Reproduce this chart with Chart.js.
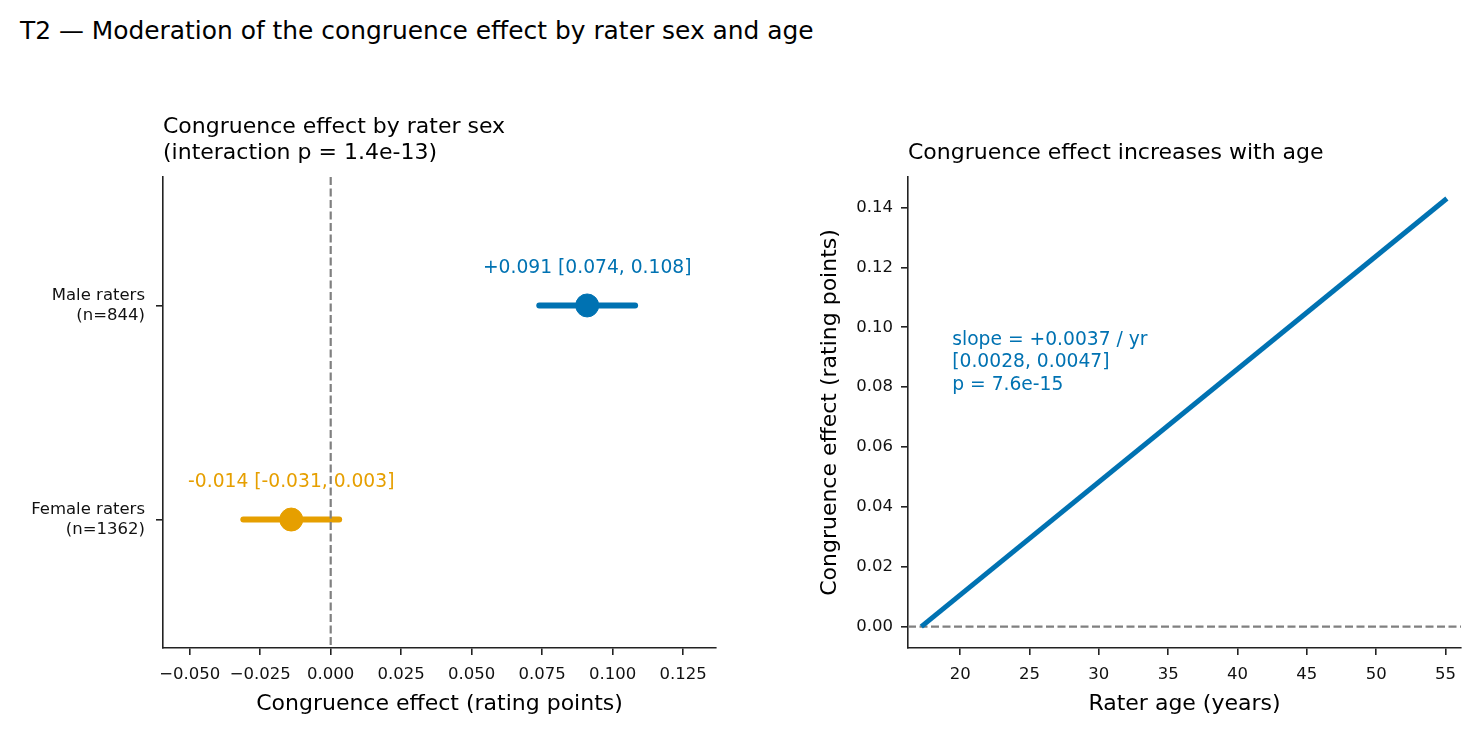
<!DOCTYPE html>
<html>
<head>
<meta charset="utf-8">
<script src="https://cdn.jsdelivr.net/npm/chart.js@4.4.1/dist/chart.umd.min.js"></script>
<style>
body { margin: 0; background: #fff; width: 1481px; height: 737px; overflow: hidden; position: relative; font-family: 'DejaVu Sans'; }
#sup { position: absolute; left: 20px; top: 16px; font-size: 24.9px; line-height: 30px; color: #000; white-space: nowrap; }
#left { position: absolute; left: 0; top: 0; }
#right { position: absolute; left: 760px; top: 0; }
</style>
</head>
<body>
<div id="sup">T2 — Moderation of the congruence effect by rater sex and age</div>
<canvas id="left" width="740" height="737"></canvas>
<canvas id="right" width="721" height="737"></canvas>
<script>
// left panel: effect by rater sex
const groups = ['Female raters', 'Male raters'];
const groupN = [1362, 844];
const estimates = [-0.014, 0.091];
const ciLow = [-0.031, 0.074];
const ciHigh = [0.003, 0.108];
const groupColors = ['#E69F00', '#0072B2'];
const sexTitle = ['Congruence effect by rater sex', '(interaction p = 1.4e-13)'];

// right panel: effect by age
const ages = [17.2, 55.1];
const ageEffect = [0.0, 0.143];
const slopeText = ['slope = +0.0037 / yr', '[0.0028, 0.0047]', 'p = 7.6e-15'];
const ageTitle = 'Congruence effect increases with age';
const blue = '#0072B2';

const axisColor = '#222';
const tickFont = { size: 16.5 };
const labelFont = { size: 22 };

Chart.defaults.font.family = "'DejaVu Sans', sans-serif";
Chart.defaults.color = '#111';

function fmtSigned(v, digits) {
    if (Math.abs(v) < 1e-9) return (0).toFixed(digits);
    return v < 0 ? '\u2212' + Math.abs(v).toFixed(digits) : v.toFixed(digits);
}

function axisBase() {
    return {
        grid: { drawOnChartArea: false, drawTicks: true, tickLength: 7, color: axisColor, lineWidth: 1.6 },
        border: { display: true, color: axisColor, width: 1.6 },
    };
}

function drawDashed(ctx, x1, y1, x2, y2) {
    ctx.save();
    ctx.strokeStyle = '#808080';
    ctx.lineWidth = 2.2;
    ctx.setLineDash([8, 3.5]);
    ctx.beginPath();
    ctx.moveTo(x1, y1);
    ctx.lineTo(x2, y2);
    ctx.stroke();
    ctx.restore();
}

const sexPlugin = {
    id: 'sexText',
    afterDatasetsDraw(chart) {
        const ctx = chart.ctx;
        const a = chart.chartArea;
        const xs = chart.scales.x;
        const ys = chart.scales.y;
        const zx = xs.getPixelForValue(0);
        drawDashed(ctx, zx, a.top, zx, a.bottom);
        ctx.save();
        ctx.textBaseline = 'middle';
        ctx.font = "22px 'DejaVu Sans'";
        ctx.fillStyle = '#000';
        ctx.textAlign = 'left';
        sexTitle.forEach((line, i) => ctx.fillText(line, a.left, a.top - 50 + i * 26));
        ctx.font = "18.7px 'DejaVu Sans'";
        ctx.textAlign = 'center';
        groups.forEach((g, i) => {
            const lbl = (estimates[i] >= 0 ? '+' : '') + estimates[i].toFixed(3) +
                ' [' + ciLow[i].toFixed(3) + ', ' + ciHigh[i].toFixed(3) + ']';
            ctx.fillStyle = groupColors[i];
            ctx.fillText(lbl, xs.getPixelForValue(estimates[i]), ys.getPixelForValue(i) - 37);
        });
        ctx.restore();
    }
};

const agePlugin = {
    id: 'ageText',
    beforeDatasetsDraw(chart) {
        const a = chart.chartArea;
        const zy = chart.scales.y.getPixelForValue(0);
        drawDashed(chart.ctx, a.left, zy, a.right, zy);
    },
    afterDatasetsDraw(chart) {
        const ctx = chart.ctx;
        const a = chart.chartArea;
        ctx.save();
        ctx.textBaseline = 'middle';
        ctx.textAlign = 'left';
        ctx.font = "22px 'DejaVu Sans'";
        ctx.fillStyle = '#000';
        ctx.fillText(ageTitle, a.left, a.top - 24);
        ctx.font = "18.7px 'DejaVu Sans'";
        ctx.fillStyle = blue;
        const x0 = a.left + 0.08 * (a.right - a.left);
        const y0 = a.top + 0.346 * (a.bottom - a.top);
        slopeText.forEach((line, i) => ctx.fillText(line, x0, y0 + i * 22.5));
        ctx.restore();
    }
};

new Chart(document.getElementById('left'), {
    type: 'scatter',
    data: {
        datasets: [
            ...groups.map((g, i) => ({
                label: g + ' CI',
                data: [{ x: ciLow[i], y: i }, { x: ciHigh[i], y: i }],
                showLine: true,
                borderColor: groupColors[i],
                borderWidth: 6,
                borderCapStyle: 'round',
                pointRadius: 0,
                order: 2
            })),
            ...groups.map((g, i) => ({
                label: g,
                data: [{ x: estimates[i], y: i }],
                backgroundColor: groupColors[i],
                borderColor: groupColors[i],
                pointRadius: 11.5,
                pointBorderWidth: 1,
                order: 1
            }))
        ]
    },
    options: {
        responsive: false,
        animation: false,
        layout: { padding: { top: 177, right: 24, left: 0, bottom: 0 } },
        plugins: { legend: { display: false }, tooltip: { enabled: false } },
        scales: {
            x: {
                type: 'linear', min: -0.0595, max: 0.1367,
                ...axisBase(),
                afterFit: s => { s.height = 89; },
                ticks: { stepSize: 0.025, includeBounds: false, padding: 10, font: tickFont, color: '#111',
                    callback: v => fmtSigned(v, 3) },
                title: { display: true, text: 'Congruence effect (rating points)', font: labelFont, color: '#000', padding: { top: 0, bottom: 20 } }
            },
            y: {
                type: 'linear', min: -0.6, max: 1.6,
                ...axisBase(),
                afterFit: s => { s.width = 163; },
                afterBuildTicks: s => { s.ticks = groups.map((g, i) => ({ value: i })); },
                ticks: { padding: 11, font: tickFont, color: '#111',
                    callback: v => [groups[v], '(n=' + groupN[v] + ')'] }
            }
        }
    },
    plugins: [sexPlugin]
});

new Chart(document.getElementById('right'), {
    type: 'scatter',
    data: {
        datasets: [{
            label: 'fit',
            data: ages.map((a, i) => ({ x: a, y: ageEffect[i] })),
            showLine: true,
            borderColor: blue,
            borderWidth: 5,
            borderCapStyle: 'butt',
            pointRadius: 0
        }]
    },
    options: {
        responsive: false,
        animation: false,
        layout: { padding: { top: 177, right: 20, left: 0, bottom: 0 } },
        plugins: { legend: { display: false }, tooltip: { enabled: false } },
        scales: {
            x: {
                type: 'linear', min: 16.24, max: 56.12,
                ...axisBase(),
                afterFit: s => { s.height = 89; },
                ticks: { stepSize: 5, includeBounds: false, padding: 10, font: tickFont, color: '#111',
                    callback: v => String(v) },
                title: { display: true, text: 'Rater age (years)', font: labelFont, color: '#000', padding: { top: 0, bottom: 20 } }
            },
            y: {
                type: 'linear', min: -0.00715, max: 0.1502,
                ...axisBase(),
                afterFit: s => { s.width = 148; },
                ticks: { stepSize: 0.02, includeBounds: false, padding: 8, font: tickFont, color: '#111',
                    callback: v => fmtSigned(v, 2) },
                title: { display: true, text: 'Congruence effect (rating points)', font: labelFont, color: '#000', padding: { top: 57, bottom: 0 } }
            }
        }
    },
    plugins: [agePlugin]
});
</script>
</body>
</html>
